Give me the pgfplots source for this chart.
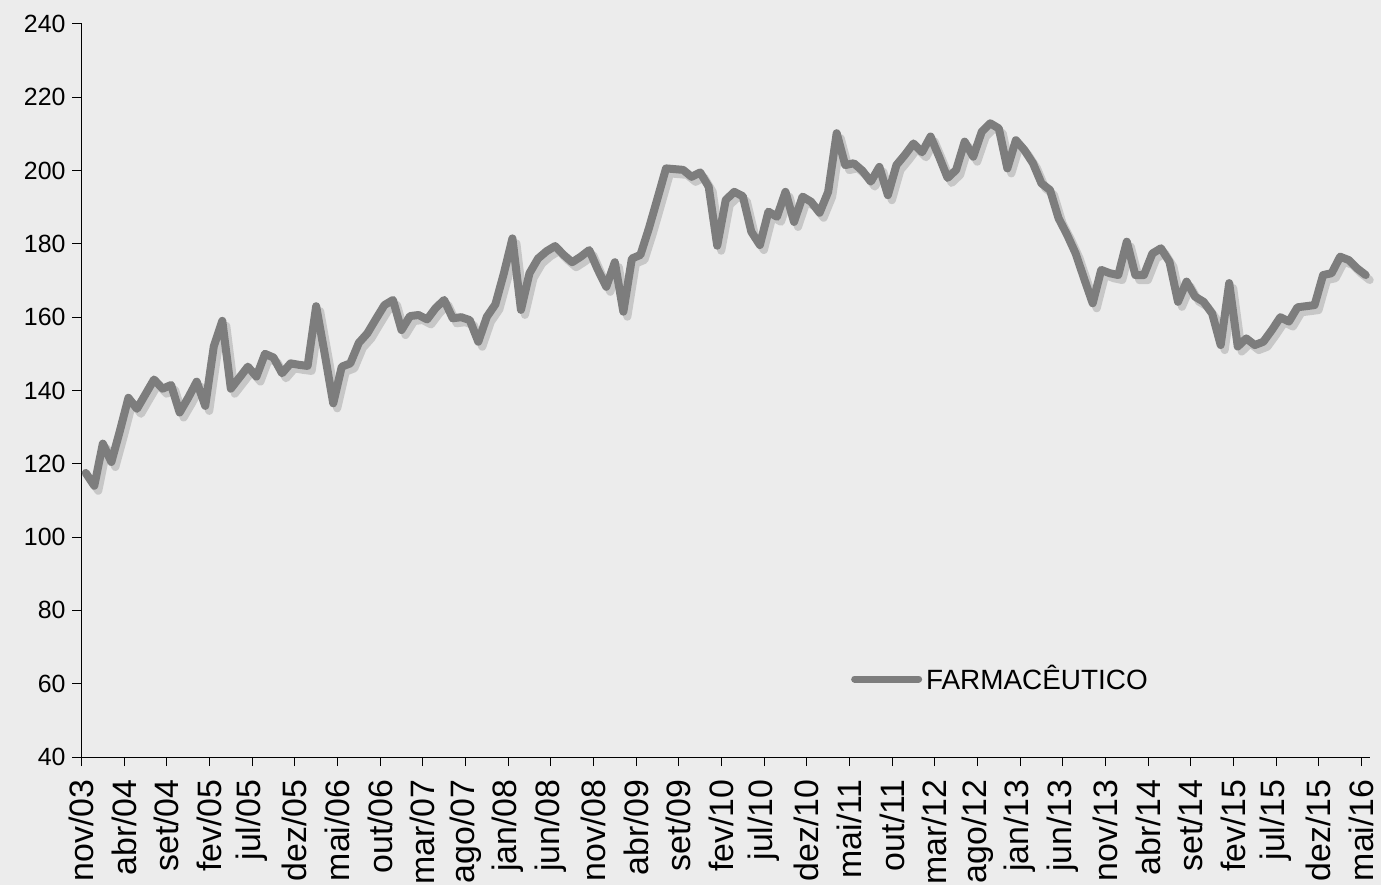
\documentclass[border=0pt]{standalone}
\usepackage{fontspec}
\setmainfont{Liberation Sans}
\usepackage{pgfplots}
\usepackage{pgfplotstable}
\pgfplotsset{compat=1.18}
\definecolor{bgc}{RGB}{236,236,236}
\definecolor{linec}{RGB}{125,125,125}
\definecolor{shadc}{RGB}{190,190,190}
\pgfplotstableread{
m v
0 117.5
1 114
2 125.5
3 120.5
4 129
5 138
6 135
7 139
8 143
9 140.5
10 141.5
11 134
12 138
13 142.4
14 135.8
15 152
16 159
17 140.5
18 143.5
19 146.5
20 143.8
21 150
22 149
23 144.7
24 147.4
25 147
26 146.7
27 163
28 150
29 136.5
30 146.5
31 147.4
32 153
33 155.6
34 159.5
35 163.3
36 164.7
37 156.5
38 160.3
39 160.6
40 159.4
41 162.5
42 164.7
43 159.7
44 160
45 159.2
46 153.3
47 160.1
48 163.5
49 172
50 181.5
51 162
52 172
53 176
54 178
55 179.4
56 177
57 175
58 176.5
59 178.3
60 173
61 168.3
62 175
63 161.5
64 176
65 177
66 184.3
67 192.4
68 200.6
69 200.4
70 200.2
71 198.3
72 199.5
73 195.6
74 179.5
75 192
76 194.2
77 193
78 183.3
79 179.7
80 188.8
81 187.4
82 194.2
83 186
84 192.9
85 191.5
86 188.5
87 194.2
88 210.2
89 201.5
90 202
91 200
92 197
93 201
94 193.3
95 201.5
96 204.3
97 207.4
98 205
99 209.3
100 203.8
101 198
102 200.2
103 207.9
104 203.8
105 210.6
106 212.9
107 211.5
108 200.6
109 208.3
110 205.6
111 202
112 196.5
113 194.7
114 187
115 182.5
116 177.4
117 170.5
118 163.8
119 172.9
120 172
121 171.5
122 180.6
123 171.5
124 171.5
125 177.4
126 178.8
127 175.1
128 164.2
129 169.7
130 165.6
131 164.2
132 161
133 152.4
134 169.3
135 152
136 154.2
137 152.4
138 153.3
139 156.5
140 160
141 158.8
142 162.7
143 163
144 163.3
145 171.5
146 172
147 176.5
148 175.6
149 173.3
150 171.5
}\farma
\begin{document}
\begin{tikzpicture}
\useasboundingbox (0,0) rectangle (690.5bp,442.5bp);
\fill[bgc] (0,0) rectangle (690.5bp,442.5bp);
\begin{axis}[
  at={(40.75bp,64bp)}, anchor=south west,
  scale only axis, width=644.25bp, height=366.5bp,
  xmin=-0.5, xmax=150.5, ymin=40, ymax=240,
  axis x line*=bottom, axis y line*=left,
  axis line style={-, black, line width=0.5bp},
  tick align=outside,
  major tick length=4.5bp,
  every tick/.style={black, line width=0.5bp},
  xtick={-0.5,4.5,...,149.5},
  xticklabels={nov/03,abr/04,set/04,fev/05,jul/05,dez/05,mai/06,out/06,mar/07,ago/07,jan/08,jun/08,nov/08,abr/09,set/09,fev/10,jul/10,dez/10,mai/11,out/11,mar/12,ago/12,jan/13,jun/13,nov/13,abr/14,set/14,fev/15,jul/15,dez/15,mai/16},
  xticklabel style={rotate=90, anchor=east, font=\fontsize{17}{18}\selectfont, inner sep=6.5bp},
  ytick={40,60,...,240},
  yticklabel style={font=\fontsize{12.5}{14}\selectfont, /pgf/number format/assume math mode=true},
  /pgf/number format/assume math mode=true,
  clip=false,
  legend style={at={(0.597,0.1064)}, anchor=west, draw=none, fill=none, inner sep=0pt,
    font=\fontsize{14}{16}\selectfont},
  legend cell align=left,
  legend image code/.code={\draw[#1, line width=3.5bp] (0bp,0bp) -- (32bp,0bp);},
]
\addplot[forget plot, shadc, line width=4bp, line join=round, line cap=round, xshift=2bp, yshift=-2.5bp, opacity=0.8] table[x=m,y=v]{\farma};
\addplot[linec, line width=4bp, line join=round, line cap=round] table[x=m,y=v]{\farma};
\addlegendentry{FARMACÊUTICO}
\end{axis}
\end{tikzpicture}
\end{document}
